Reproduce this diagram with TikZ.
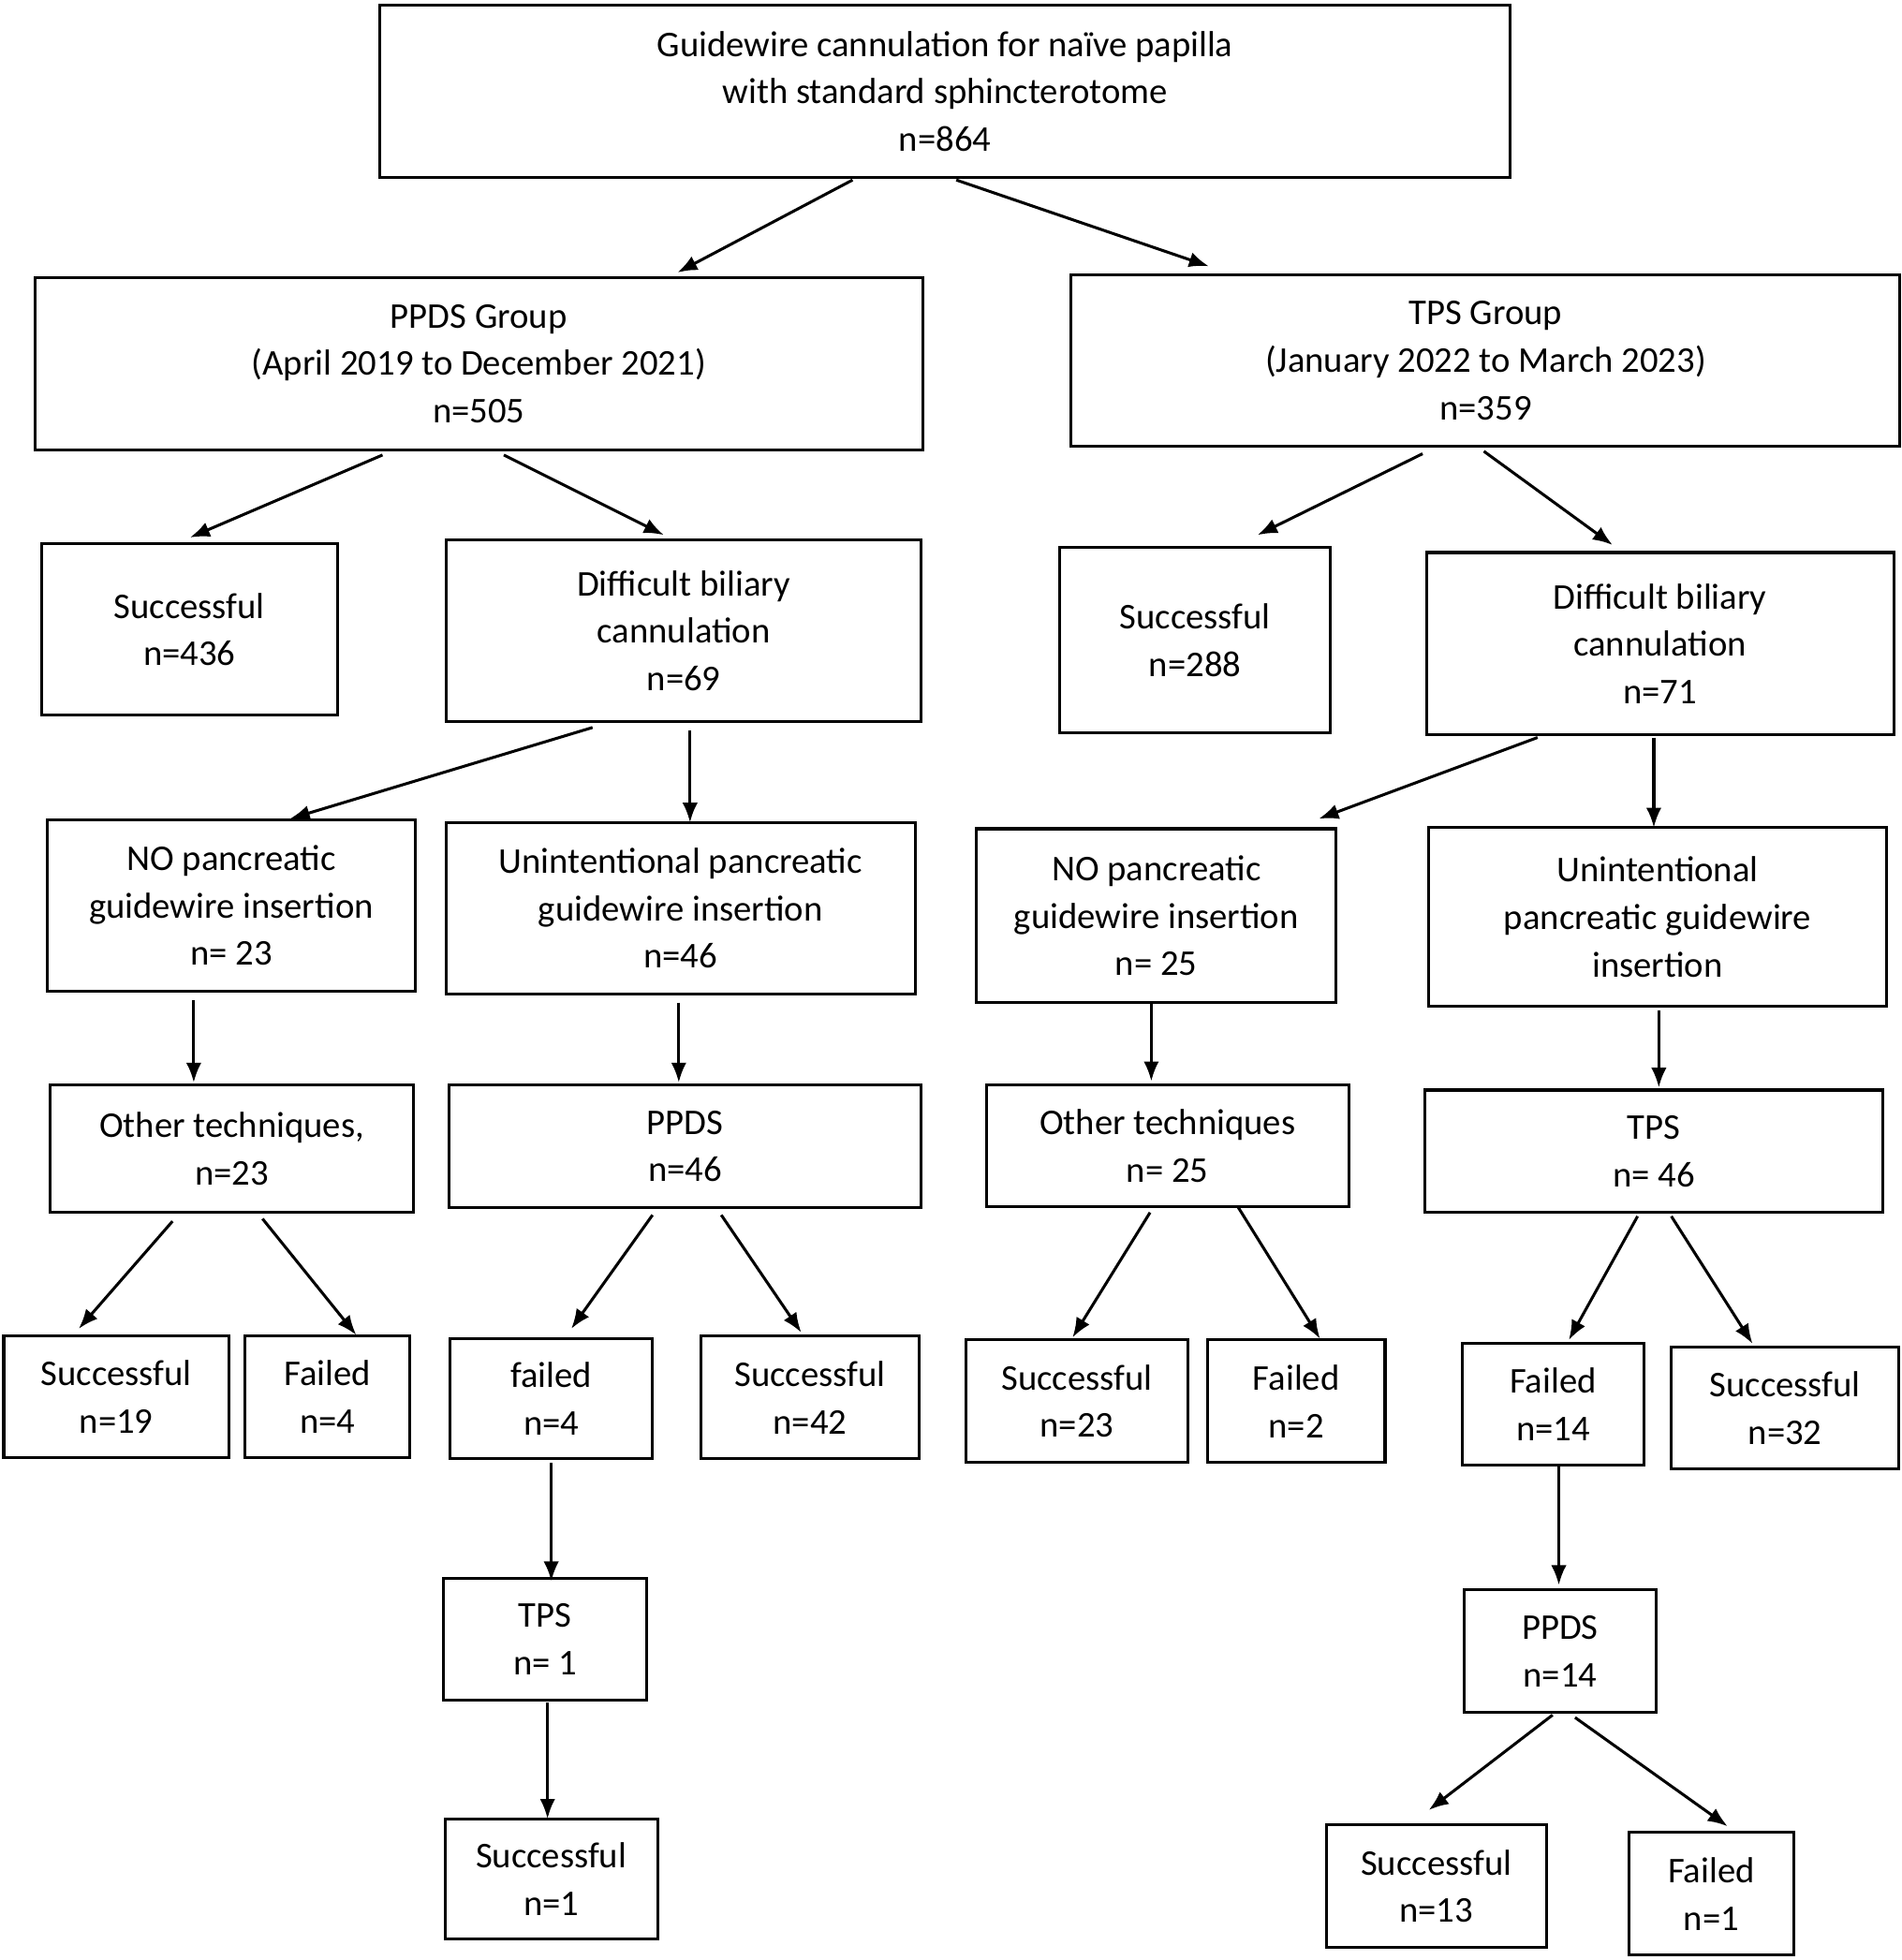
\documentclass[tikz,border=0pt]{standalone}
\usepackage{fontspec}
\setmainfont{Carlito}
\usetikzlibrary{arrows.meta}
\newcommand{\bx}[6]{\node[box,minimum width={(#4-#2)*0.02cm},minimum height={(#5-#3)*0.02cm}] (#1) at ({(#2+#4)/2},{(#3+#5)/2}) {#6};}
\begin{document}
\begin{tikzpicture}[x=0.02cm,y=-0.02cm,
 box/.style={draw,line width=1.3pt,align=center,inner sep=0pt,font=\fontsize{16.5}{21.6}\selectfont},
 arr/.style={line width=1.3pt,-{Latex[length=9pt,width=7pt]}}]
\useasboundingbox (0,0) rectangle (1521,1568);
\bx{top}{304}{4}{1208}{142}{Guidewire cannulation for na\"ive papilla\\with standard sphincterotome\\n=864}
\bx{ppds}{28}{222}{738}{360}{PPDS Group\\(April 2019 to December 2021)\\n=505}
\bx{tps}{857}{220}{1520}{357}{TPS Group\\(January 2022 to March 2023)\\n=359}
\bx{s436}{33}{435}{270}{572}{Successful\\n=436}
\bx{d69}{357}{432}{737}{577}{Difficult biliary\\cannulation\\n=69}
\bx{s288}{848}{438}{1064}{586}{Successful\\n=288}
\bx{d71}{1141}{442}{1515}{588}{Difficult biliary\\cannulation\\n=71}
\bx{no23}{38}{656}{332}{793}{NO pancreatic\\guidewire insertion\\n= 23}
\bx{u46}{357}{658}{732}{795}{Unintentional pancreatic\\guidewire insertion\\n=46}
\bx{no25}{781}{663}{1069}{802}{NO pancreatic\\guidewire insertion\\n= 25}
\bx{u2}{1143}{662}{1509}{805}{Unintentional\\pancreatic guidewire\\insertion}
\bx{o23}{40}{868}{331}{970}{Other techniques,\\n=23}
\bx{p46}{359}{868}{737}{966}{PPDS\\n=46}
\bx{o25}{789}{868}{1079}{965}{Other techniques\\n= 25}
\bx{t46}{1140}{872}{1506}{970}{TPS\\n= 46}
\bx{s19}{3}{1069}{183}{1166}{Successful\\n=19}
\bx{f4a}{196}{1069}{328}{1166}{Failed\\n=4}
\bx{f4b}{360}{1071}{522}{1167}{failed\\n=4}
\bx{s42}{561}{1069}{735}{1167}{Successful\\n=42}
\bx{s23}{773}{1072}{950}{1170}{Successful\\n=23}
\bx{f2}{966}{1072}{1108}{1170}{Failed\\n=2}
\bx{f14}{1170}{1075}{1315}{1172}{Failed\\n=14}
\bx{s32}{1337}{1078}{1519}{1175}{Successful\\n=32}
\bx{t1}{355}{1263}{517}{1360}{TPS\\n= 1}
\bx{s1}{356}{1455}{526}{1551}{Successful\\n=1}
\bx{p14}{1171}{1272}{1325}{1370}{PPDS\\n=14}
\bx{s13}{1061}{1460}{1237}{1558}{Successful\\n=13}
\bx{f1}{1303}{1466}{1435}{1564}{Failed\\n=1}
\draw[arr] (682,144)--(542,218);
\draw[arr] (765,144)--(967,213);
\draw[arr] (306,364)--(152,430);
\draw[arr] (403,364)--(531,428);
\draw[arr] (1138,363)--(1006,428);
\draw[arr] (1187,361)--(1290,436);
\draw[arr] (474,582)--(232,655);
\draw[arr] (552,584)--(552,658);
\draw[arr] (1230,590)--(1055,655);
\draw[arr] (1323,590)--(1323,662);
\draw[arr] (155,800)--(155,866);
\draw[arr] (543,802)--(543,866);
\draw[arr] (921,803)--(921,865);
\draw[arr] (1327,808)--(1327,870);
\draw[arr] (138,977)--(63,1063);
\draw[arr] (210,975)--(285,1068);
\draw[arr] (522,972)--(457,1063);
\draw[arr] (577,972)--(641,1066);
\draw[arr] (920,970)--(858,1070);
\draw[arr] (990,965)--(1056,1071);
\draw[arr] (1310,973)--(1255,1072);
\draw[arr] (1337,973)--(1402,1075);
\draw[arr] (441,1170)--(441,1265);
\draw[arr] (438,1362)--(438,1455);
\draw[arr] (1247,1173)--(1247,1268);
\draw[arr] (1242,1372)--(1143,1448);
\draw[arr] (1260,1374)--(1382,1461);
\end{tikzpicture}
\end{document}
